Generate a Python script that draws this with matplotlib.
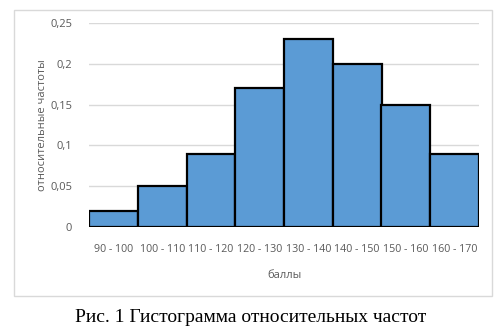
import matplotlib
matplotlib.use("Agg")
import matplotlib.pyplot as plt
from matplotlib.patches import Rectangle

categories = ["90 - 100", "100 - 110", "110 - 120", "120 - 130",
              "130 - 140", "140 - 150", "150 - 160", "160 - 170"]
frequencies = [0.02, 0.05, 0.09, 0.17, 0.23, 0.20, 0.15, 0.09]
y_ticks = [0, 0.05, 0.1, 0.15, 0.2, 0.25]
y_tick_labels = ["0", "0,05", "0,1", "0,15", "0,2", "0,25"]

W, H = 502, 332
fig = plt.figure(figsize=(W / 100, H / 100), dpi=100)
fig.patch.set_facecolor("white")

# chart frame
fig.add_artist(Rectangle((14 / W, 1 - 296 / H), (492 - 14) / W, (296 - 10) / H,
                         transform=fig.transFigure, fill=False,
                         edgecolor="#D9D9D9", linewidth=1))

ax = fig.add_axes([89 / W, 1 - 227 / H, (479 - 89) / W, (227 - 23) / H])
x = range(len(categories))
ax.bar(x, frequencies, width=1.0, color="#5B9BD5", edgecolor="black",
       linewidth=1.6, zorder=3)
ax.set_xlim(-0.5, len(categories) - 0.5)
ax.set_ylim(0, 0.25)
ax.set_yticks(y_ticks)
ax.set_yticklabels(y_tick_labels)
ax.set_xticks(list(x))
ax.set_xticklabels(categories)
for s in ax.spines.values():
    s.set_visible(False)
ax.grid(axis="y", color="#D9D9D9", linewidth=1, zorder=0)
ax.tick_params(axis="y", length=0, labelsize=8, colors="#595959", pad=12)
ax.tick_params(axis="x", length=0, labelsize=7.7, colors="#595959", pad=12)
for t in ax.get_xticklabels() + ax.get_yticklabels():
    t.set_family("Open Sans")

ax.set_xlabel("баллы", family="Open Sans", fontsize=8, color="#595959",
              labelpad=11)
ax.set_ylabel("относительные частоты", family="Open Sans", fontsize=8,
              color="#595959", labelpad=2)

fig.text(0.5, 1 - 318 / H, "Рис. 1 Гистограмма относительных частот",
         family="Liberation Serif", fontsize=14, ha="center", va="center",
         color="black")

fig.savefig("out.png", dpi=100)
